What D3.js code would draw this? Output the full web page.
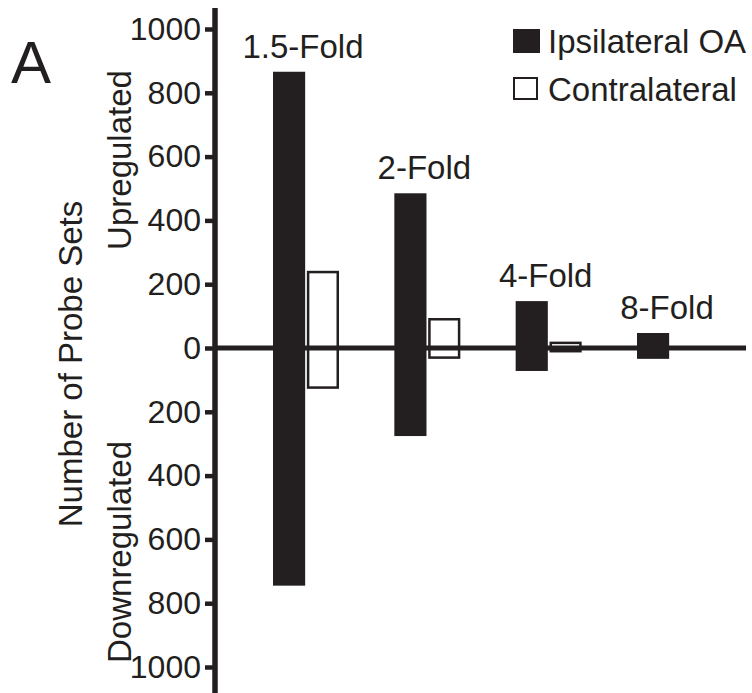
<!DOCTYPE html>
<html lang="en">
<head>
	<meta charset="UTF-8">
	<title>Number of Probe Sets</title>
	<script src="https://d3js.org/d3.v7.min.js"></script>
	<style>
		body { margin: 0; background: #fff; }
		text { font-family: "Liberation Sans", Arial, sans-serif; fill: #231f20; }
	</style>
</head>
<body>
	<script>
		// data
		var folds = ["1.5-Fold", "2-Fold", "4-Fold", "8-Fold"];
		var series = ["Ipsilateral OA", "Contralateral"];
		var ipsiUp = [866, 485, 147, 47];
		var ipsiDown = [745, 276, 72, 34];
		var contraUp = [242, 94, 20, 0];
		var contraDown = [128, 34, 14, 0];
		var yTicks = [-1000, -800, -600, -400, -200, 0, 200, 400, 600, 800, 1000];

		var w = 752, h = 693;
		var ink = "#231f20";
		var axisX = 215;

		var svg = d3.select("body").append("svg")
			.attr("width", w)
			.attr("height", h);

		var y = d3.scaleLinear().domain([-1000, 1000]).range([667, 29]);

		var x = d3.scaleBand().domain(folds).range([273, 703]).paddingInner(0.456);
		var xs = d3.scaleBand().domain(series).range([0, x.bandwidth()]).paddingInner(0.05);

		// build rows for bars
		var rows = [];
		folds.forEach(function(f, i){
			rows.push({fold: f, s: series[0], up: ipsiUp[i], down: ipsiDown[i]});
			rows.push({fold: f, s: series[1], up: contraUp[i], down: contraDown[i]});
		});
		rows = rows.filter(function(d){ return d.up + d.down > 0; });

		var sw = 2.5;
		svg.selectAll("rect.bar")
			.data(rows)
			.enter().append("rect")
			.attr("class", "bar")
			.attr("x", function(d){
				var x0 = x(d.fold) + xs(d.s);
				return d.s == series[0] ? x0 : x0 + sw / 2;
			})
			.attr("y", function(d){
				return d.s == series[0] ? y(d.up) : y(d.up) + sw / 2;
			})
			.attr("width", function(d){
				return d.s == series[0] ? xs.bandwidth() : xs.bandwidth() - sw;
			})
			.attr("height", function(d){
				var hh = y(-d.down) - y(d.up);
				return d.s == series[0] ? hh : hh - sw;
			})
			.attr("fill", function(d){ return d.s == series[0] ? ink : "none"; })
			.attr("stroke", function(d){ return d.s == series[0] ? "none" : ink; })
			.attr("stroke-width", sw);

		// zero line
		svg.append("line")
			.attr("x1", axisX).attr("x2", 746)
			.attr("y1", y(0)).attr("y2", y(0))
			.attr("stroke", ink).attr("stroke-width", 5);

		// y axis
		var yAxis = d3.axisLeft(y)
			.tickValues(yTicks)
			.tickSize(10)
			.tickPadding(4)
			.tickFormat(function(d){ return Math.abs(d); });

		var gy = svg.append("g")
			.attr("transform", "translate(" + axisX + ",0)")
			.call(yAxis);
		gy.select(".domain").remove();
		gy.selectAll(".tick line").attr("stroke", ink).attr("stroke-width", 4.5);
		gy.selectAll(".tick text")
			.attr("fill", ink)
			.style("font-size", "32px")
			.style("font-family", "'Liberation Sans', Arial, sans-serif");

		svg.append("line")
			.attr("x1", axisX).attr("x2", axisX)
			.attr("y1", 8).attr("y2", h)
			.attr("stroke", ink).attr("stroke-width", 5.5);

		// fold labels
		svg.selectAll("text.fold")
			.data(folds)
			.enter().append("text")
			.attr("class", "fold")
			.attr("x", function(d){ return x(d) + x.bandwidth() / 2 - 3; })
			.attr("y", function(d, i){ return y(Math.max(ipsiUp[i], contraUp[i])) - 14; })
			.attr("text-anchor", "middle")
			.style("font-size", "33px")
			.text(function(d){ return d; });

		// axis titles
		svg.append("text")
			.attr("transform", "translate(82,364) rotate(-90)")
			.attr("text-anchor", "middle")
			.style("font-size", "33px")
			.text("Number of Probe Sets");
		svg.append("text")
			.attr("transform", "translate(131,160) rotate(-90)")
			.attr("text-anchor", "middle")
			.style("font-size", "33px")
			.text("Upregulated");
		svg.append("text")
			.attr("transform", "translate(131,552) rotate(-90)")
			.attr("text-anchor", "middle")
			.style("font-size", "33px")
			.text("Downregulated");

		// panel letter
		svg.append("text")
			.attr("x", 11).attr("y", 83)
			.style("font-size", "60px")
			.text("A");

		// legend
		var leg = svg.selectAll("g.leg")
			.data(series)
			.enter().append("g")
			.attr("class", "leg")
			.attr("transform", function(d, i){ return "translate(513," + (29 + i * 48) + ")"; });
		leg.append("rect")
			.attr("x", function(d, i){ return i ? 1 : 0; })
			.attr("y", function(d, i){ return i ? 1 : 0; })
			.attr("width", function(d, i){ return i ? 23 : 27; })
			.attr("height", function(d, i){ return i ? 21 : 24; })
			.attr("fill", function(d, i){ return i ? "none" : ink; })
			.attr("stroke", function(d, i){ return i ? ink : "none"; })
			.attr("stroke-width", 2);
		leg.append("text")
			.attr("x", 35).attr("y", 24)
			.style("font-size", "33px")
			.text(function(d){ return d; });
	</script>
</body>
</html>
